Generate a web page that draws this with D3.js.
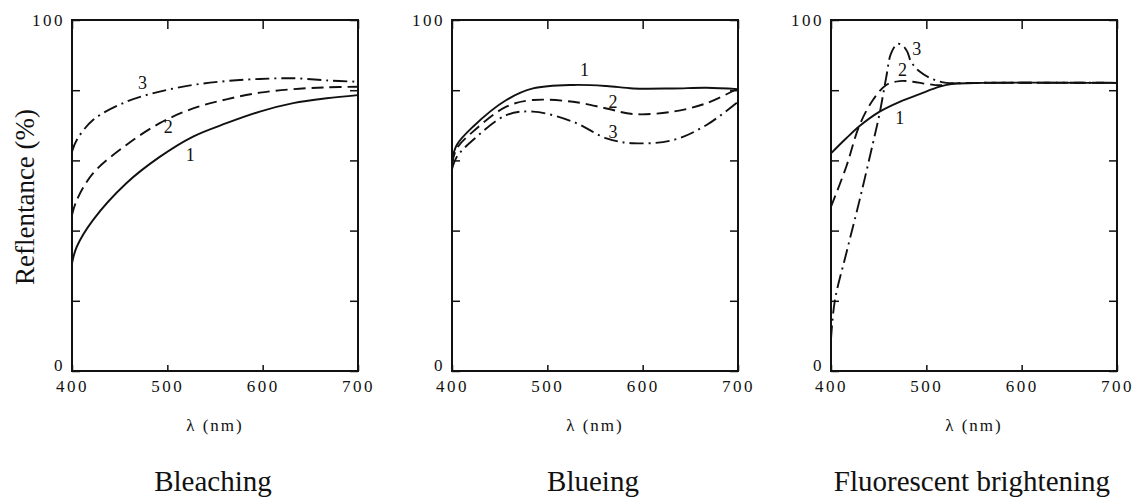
<!DOCTYPE html>
<html>
<head>
<meta charset="utf-8">
<script src="https://d3js.org/d3.v7.min.js"></script>
<style>
  body { margin: 0; background: #fff; }
  svg { display: block; }
  .tick text { font-family: "Liberation Serif", "DejaVu Serif", serif; font-size: 17px; letter-spacing: 2.5px; fill: #111; }
  .tick line { stroke: #111; stroke-width: 1.5; }
</style>
</head>
<body>
<script>
// ---- data ----
var panelTitles = ["Bleaching", "Blueing", "Fluorescent brightening"];
var xTicks = [400, 500, 600, 700];
var yTicks = [0, 20, 40, 60, 80, 100];
var yTickLabels = {0: "0", 100: "100"};
var curveNames = ["1", "2", "3"];

// Bleaching
var bleachWl = [400, 405, 422, 457, 492, 527, 562, 597, 632, 667, 700];
var bleach1 = [30.7, 35.4, 43, 53.5, 61, 66.8, 70.6, 73.9, 76.3, 77.7, 78.6];
var bleach2 = [44.4, 48.7, 56.3, 64.4, 70.6, 74.8, 77.4, 79.3, 80.3, 80.8, 81];
var bleach3 = [62.5, 65.8, 71.5, 76.7, 79.6, 81.5, 82.6, 83.2, 83.4, 82.8, 82.4];

// Blueing
var blueWl = [400, 405, 422, 457, 485, 527, 562, 590, 632, 667, 700];
var blue1 = [60, 64.4, 69.6, 77.2, 80.5, 81.5, 81.2, 80.5, 80.5, 80.7, 80.3];
var blue2 = [59, 63.4, 68.2, 75.3, 77.2, 76.7, 74.8, 73.2, 73.9, 76.3, 80.5];
var blue3 = [57.5, 61, 65.8, 72.9, 73.9, 71, 66.3, 64.9, 65.8, 70.1, 76.7];

// Fluorescent brightening
var fluor1Wl = [400, 416, 430, 451, 472, 493, 514, 528, 560, 700];
var fluor1 = [62, 66.3, 69.8, 73.9, 76.7, 78.9, 81, 81.8, 82.1, 82.1];
var fluor2Wl = [400, 416, 430, 444, 458, 472, 486, 500, 514, 528, 560, 700];
var fluor2 = [46.8, 58.2, 70.1, 77.2, 81.5, 82.6, 82.4, 81.8, 81.4, 81.9, 82.1, 82.1];
var fluor3Wl = [400, 404, 416, 430, 444, 451, 458, 463, 470, 476, 480, 484, 493, 507, 521, 535, 560, 700];
var fluor3 = [9, 20, 33.5, 48.7, 64.9, 73.4, 83.8, 90.5, 93.2, 92.5, 91, 88.1, 85.3, 83.1, 82.1, 82, 82.1, 82.1];

// curve label anchors (wavelength, reflectance) per panel, order 1,2,3
var labelWl = [[524, 501, 474], [539, 569, 569], [472, 475, 490]];
var labelVal = [[61.5, 69.5, 82], [85.8, 76.6, 68.1], [72.1, 85.8, 91.7]];

var dashStyles = [null, "12,6", "14,5,2,5"];

var panels = [
  {wl: [bleachWl, bleachWl, bleachWl], vals: [bleach1, bleach2, bleach3]},
  {wl: [blueWl, blueWl, blueWl], vals: [blue1, blue2, blue3]},
  {wl: [fluor1Wl, fluor2Wl, fluor3Wl], vals: [fluor1, fluor2, fluor3]}
];

// ---- layout ----
var W = 1136, H = 497;
var panelLeft = [72, 452, 831];
var panelW = 286;
var plotTop = 20, plotBottom = 371;

var SVG = d3.select("body").append("svg").attr("width", W).attr("height", H);

var y = d3.scaleLinear().domain([0, 100]).range([plotBottom, plotTop]);

panels.forEach(function(p, i) {
  var x = d3.scaleLinear().domain([400, 700]).range([panelLeft[i], panelLeft[i] + panelW]);
  var g = SVG.append("g");

  // inward ticks on all four sides
  g.append("g").attr("transform", "translate(0," + plotBottom + ")")
    .call(d3.axisBottom(x).tickValues(xTicks).tickSizeInner(-6).tickSizeOuter(0).tickPadding(9).tickFormat(d3.format("d")))
    .call(function(a) { a.select(".domain").remove(); });
  g.append("g").attr("transform", "translate(0," + plotTop + ")")
    .call(d3.axisTop(x).tickValues(xTicks).tickSizeInner(-9).tickSizeOuter(0).tickFormat(""))
    .call(function(a) { a.select(".domain").remove(); });
  g.append("g").attr("transform", "translate(" + panelLeft[i] + ",0)")
    .call(d3.axisLeft(y).tickValues(yTicks).tickSizeInner(-8).tickSizeOuter(0).tickPadding(7)
      .tickFormat(function(d) { return yTickLabels[d] || ""; }))
    .call(function(a) {
      a.select(".domain").remove();
      // the zero label sits a little above the bottom edge
      a.selectAll(".tick text").filter(function(d) { return d === 0; }).attr("dy", "-0.05em");
    });
  g.append("g").attr("transform", "translate(" + (panelLeft[i] + panelW) + ",0)")
    .call(d3.axisRight(y).tickValues(yTicks).tickSizeInner(-8).tickSizeOuter(0).tickFormat(""))
    .call(function(a) { a.select(".domain").remove(); });

  // frame
  g.append("rect")
    .attr("x", panelLeft[i]).attr("y", plotTop)
    .attr("width", panelW).attr("height", plotBottom - plotTop)
    .attr("fill", "none").attr("stroke", "#111").attr("stroke-width", 2);

  // curves
  var line = d3.line()
    .x(function(d) { return x(d[0]); })
    .y(function(d) { return y(d[1]); })
    .curve(d3.curveCatmullRom.alpha(0.5));

  p.vals.forEach(function(vals, k) {
    var pts = vals.map(function(v, j) { return [p.wl[k][j], v]; });
    g.append("path")
      .datum(pts)
      .attr("d", line)
      .attr("fill", "none")
      .attr("stroke", "#111")
      .attr("stroke-width", 1.9)
      .attr("stroke-dasharray", dashStyles[k]);

    g.append("text")
      .attr("x", x(labelWl[i][k]))
      .attr("y", y(labelVal[i][k]))
      .attr("dy", "0.35em")
      .attr("text-anchor", "middle")
      .style("font-family", "Liberation Serif, serif")
      .style("font-size", "18px")
      .attr("fill", "#111")
      .text(curveNames[k]);
  });

  // x axis label
  g.append("text")
    .attr("x", panelLeft[i] + panelW / 2)
    .attr("y", 425)
    .attr("dy", "0.35em")
    .attr("text-anchor", "middle")
    .style("font-family", "Liberation Serif, serif")
    .style("font-size", "17px")
    .style("letter-spacing", "2px")
    .attr("fill", "#111")
    .text("λ (nm)");

  // panel title
  g.append("text")
    .attr("x", panelLeft[i] + panelW / 2 - 2)
    .attr("y", 491)
    .attr("text-anchor", "middle")
    .style("font-family", "Liberation Serif, serif")
    .style("font-size", "29px")
    .attr("fill", "#111")
    .text(panelTitles[i]);
});

// y axis title
SVG.append("text")
  .attr("transform", "translate(25,197) rotate(-90)")
  .attr("dy", "0.35em")
  .attr("text-anchor", "middle")
  .style("font-family", "Liberation Serif, serif")
  .style("font-size", "27px")
  .attr("fill", "#111")
  .text("Reflentance (%)");
</script>
</body>
</html>
